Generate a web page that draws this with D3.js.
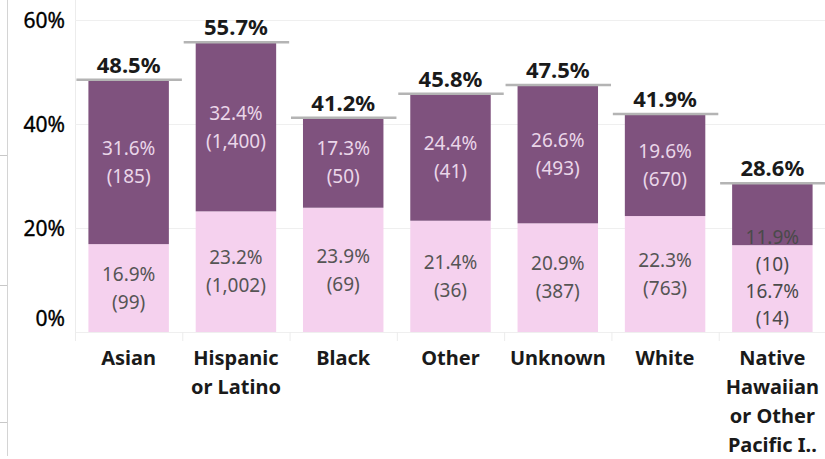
<!DOCTYPE html>
<html>
<head>
<meta charset="utf-8">
<script src="https://cdn.jsdelivr.net/npm/d3@7/dist/d3.min.js"></script>
<style>
  html, body { margin: 0; padding: 0; background: #fff; }
  svg { display: block; font-family: "Noto Sans", "Open Sans", sans-serif; }
</style>
</head>
<body>
<svg id="chart" width="825" height="459"></svg>
<script>
// Race / ethnicity groups and their two stacked shares (percent) with counts
const categories = ["Asian", "Hispanic or Latino", "Black", "Other", "Unknown", "White", "Native Hawaiian or Other Pacific I.."];
const categoryLines = [["Asian"], ["Hispanic", "or Latino"], ["Black"], ["Other"], ["Unknown"], ["White"], ["Native", "Hawaiian", "or Other", "Pacific I.."]];
const lowerPct = [16.9, 23.2, 23.9, 21.4, 20.9, 22.3, 16.7];
const lowerCount = [99, 1002, 69, 36, 387, 763, 14];
const upperPct = [31.6, 32.4, 17.3, 24.4, 26.6, 19.6, 11.9];
const upperCount = [185, 1400, 50, 41, 493, 670, 10];
const totalPct = [48.5, 55.7, 41.2, 45.8, 47.5, 41.9, 28.6];
const yTicks = [0, 20, 40, 60];

const svg = d3.select("#chart");
const colLower = "#f5d1ee", colUpper = "#7f527e";

const x = d3.scaleBand().domain(categories).range([75, 826]).paddingInner(0.25).paddingOuter(0.125);
const y = d3.scaleLinear().domain([0, 60]).range([332, 20]);
const bw = x.bandwidth();
const step = x.step();

// Left frame
svg.append("line").attr("x1", 7.5).attr("x2", 7.5).attr("y1", 0).attr("y2", 456).attr("stroke", "#d4d4d4");
[155, 285, 422].forEach(v => svg.append("line").attr("x1", 0).attr("x2", 7).attr("y1", v + 0.5).attr("y2", v + 0.5).attr("stroke", "#c8c8c8"));

// Pane divider and gridlines
svg.append("line").attr("x1", 75.5).attr("x2", 75.5).attr("y1", 0).attr("y2", 341).attr("stroke", "#ececec");
const grid = svg.append("g");
grid.selectAll("line").data(yTicks).join("line")
  .attr("x1", 75).attr("x2", 825)
  .attr("y1", d => Math.round(y(d)) + 0.5).attr("y2", d => Math.round(y(d)) + 0.5)
  .attr("stroke", "#efefef");

// Header dividers between categories
categories.forEach((c, i) => {
  const bx = x.range()[0] + i * step;
  svg.append("line").attr("x1", bx + 0.5).attr("x2", bx + 0.5).attr("y1", 332).attr("y2", 341).attr("stroke", "#ececec");
});

// Y axis
const yAxis = svg.append("g").attr("transform", "translate(65,0)")
  .call(d3.axisLeft(y).tickValues(yTicks).tickFormat(d => d + "%").tickSize(0).tickPadding(0));
yAxis.select(".domain").remove();
yAxis.selectAll("text")
  .attr("font-size", 21).attr("fill", "#000").attr("stroke", "#000").attr("stroke-width", 0.35)
  .attr("font-family", "Noto Sans, sans-serif")
  .attr("dy", d => d === 0 ? "-0.3em" : "0.35em");

// Bars
const g = svg.append("g");
categories.forEach((c, i) => {
  const x0 = x(c);
  g.append("rect").attr("x", x0).attr("width", bw)
    .attr("y", y(lowerPct[i])).attr("height", y(0) - y(lowerPct[i])).attr("fill", colLower);
  g.append("rect").attr("x", x0).attr("width", bw)
    .attr("y", y(totalPct[i])).attr("height", y(lowerPct[i]) - y(totalPct[i])).attr("fill", colUpper);
  // total reference line
  g.append("line").attr("x1", x0 - 12).attr("x2", x0 + bw + 13)
    .attr("y1", y(totalPct[i])).attr("y2", y(totalPct[i]))
    .attr("stroke", "#b4b4b4").attr("stroke-width", 2.5);
  g.append("text").attr("x", x0 + bw / 2).attr("y", y(totalPct[i]) - 7)
    .attr("text-anchor", "middle").attr("font-size", 22).attr("font-weight", "bold").attr("fill", "#1a1a1a")
    .text(totalPct[i].toFixed(1) + "%");
});

// Segment labels
const fmt = d3.format(",");
const lh = 28;
categories.forEach((c, i) => {
  const cx = x(c) + bw / 2;
  const upperH = y(lowerPct[i]) - y(totalPct[i]);
  const lines = [];
  if (upperH < 75) {
    // short top segment: stack all four lines upward from the bottom
    const texts = [upperPct[i].toFixed(1) + "%", "(" + fmt(upperCount[i]) + ")", lowerPct[i].toFixed(1) + "%", "(" + fmt(lowerCount[i]) + ")"];
    texts.forEach((t, k) => lines.push({ t, cy: y(0) - 14 - (3 - k) * 27, col: "#4a4a4a" }));
  } else {
    const mu = (y(totalPct[i]) + y(lowerPct[i])) / 2;
    lines.push({ t: upperPct[i].toFixed(1) + "%", cy: mu - lh / 2, col: "#ead6e9" });
    lines.push({ t: "(" + fmt(upperCount[i]) + ")", cy: mu + lh / 2, col: "#ead6e9" });
    const ml = (y(lowerPct[i]) + y(0)) / 2;
    lines.push({ t: lowerPct[i].toFixed(1) + "%", cy: ml - lh / 2, col: "#555" });
    lines.push({ t: "(" + fmt(lowerCount[i]) + ")", cy: ml + lh / 2, col: "#555" });
  }
  lines.forEach(l => {
    g.append("text").attr("x", cx).attr("y", l.cy).attr("dy", "0.35em")
      .attr("text-anchor", "middle").attr("font-size", 19).attr("fill", l.col).text(l.t);
  });
});

// Category labels
categories.forEach((c, i) => {
  const t = svg.append("text").attr("x", x(c) + bw / 2).attr("text-anchor", "middle")
    .attr("font-size", 20).attr("font-weight", "bold").attr("fill", "#1a1a1a");
  categoryLines[i].forEach((s, k) => {
    t.append("tspan").attr("x", x(c) + bw / 2).attr("y", 358 + k * 29).attr("dy", "0.35em").text(s);
  });
});
</script>
</body>
</html>
